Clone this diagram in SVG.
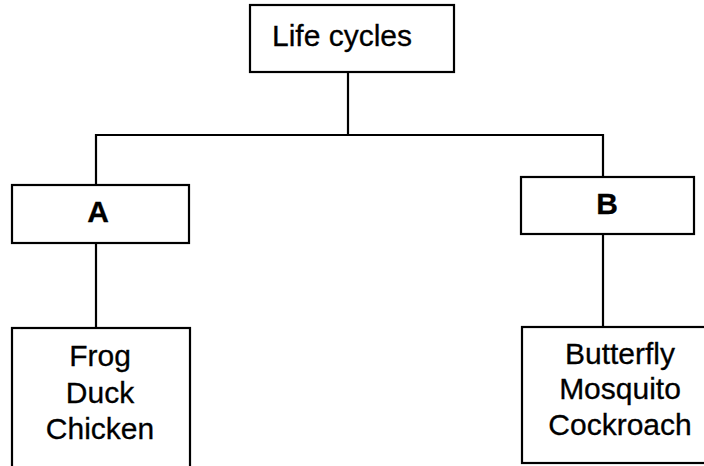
<svg xmlns="http://www.w3.org/2000/svg" width="704" height="466" viewBox="0 0 704 466">
  <style>
    .box { fill: #fff; stroke: #000; stroke-width: 2.2; }
    .link { fill: none; stroke: #000; stroke-width: 2.2; }
    .t { font-family: "Liberation Sans", Arial, sans-serif; font-size: 30px; fill: #000; stroke: #000; stroke-width: 0.3; text-anchor: middle; }
    .b { font-weight: bold; }
  </style>
  <rect width="704" height="466" fill="#fff"/>
  <g id="connectors">
    <path class="link" d="M348,72 V135"/>
    <path class="link" d="M96,185 V135 H603 V177"/>
    <path class="link" d="M96,243 V328"/>
    <path class="link" d="M603,234 V327"/>
  </g>
  <g id="life-cycles">
    <rect class="box" x="250" y="5" width="204" height="67"/>
    <text class="t" x="342" y="46">Life cycles</text>
  </g>
  <g id="group-a">
    <rect class="box" x="12" y="185" width="177" height="58"/>
    <text class="t b" x="98" y="222">A</text>
  </g>
  <g id="group-b">
    <rect class="box" x="521" y="177" width="173" height="57"/>
    <text class="t b" x="607" y="214">B</text>
  </g>
  <g id="animals-a">
    <rect class="box" x="12" y="328" width="178" height="150"/>
    <text class="t" x="100" y="366">Frog</text>
    <text class="t" x="100" y="403">Duck</text>
    <text class="t" x="100" y="439">Chicken</text>
  </g>
  <g id="animals-b">
    <rect class="box" x="522" y="327" width="186" height="136"/>
    <text class="t" x="620" y="364">Butterfly</text>
    <text class="t" x="620" y="399">Mosquito</text>
    <text class="t" x="620" y="435">Cockroach</text>
  </g>
</svg>
